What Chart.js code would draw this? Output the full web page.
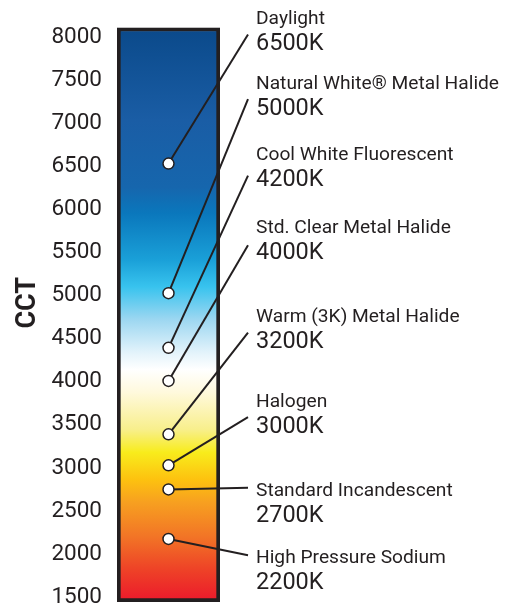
<!DOCTYPE html>
<html><head><meta charset="utf-8">
<script src="https://cdn.jsdelivr.net/npm/chart.js@4/dist/chart.umd.min.js"></script>
<style>html,body{margin:0;padding:0;background:#fff;overflow:hidden}canvas{display:block}</style>
</head><body><canvas id="c" width="532" height="609" style="width:532px;height:609px"></canvas>
<script>
// ---- data ----
const lampNames = ['Daylight','Natural White\u00AE Metal Halide','Cool White Fluorescent','Std. Clear Metal Halide','Warm (3K) Metal Halide','Halogen','Standard Incandescent','High Pressure Sodium'];
const lampLabels = ['6500K','5000K','4200K','4000K','3200K','3000K','2700K','2200K'];
const lampCCT = [6535, 5030, 4395, 4010, 3390, 3030, 2750, 2175];
const tickValues = [1500,2000,2500,3000,3500,4000,4500,5000,5500,6000,6500,7000,7500,8000];
const axisRange = [1442, 8116];
const axisTitle = 'CCT';
// ---- layout / style (in CCT units) ----
const calloutEndCCT = [8035, 7285, 6395, 5587, 4571, 3589, 2770, 1984];
const calloutTextCCT = [8208, 7458, 6638, 5783, 4756, 3763, 2735, 1950];
const spectrumStops = [
  [8081,'#0b4a8b'],[7038,'#1a5da5'],[6262,'#1666ad'],[5961,'#0a77bc'],[5416,'#1aa0d8'],
  [5103,'#38c3ee'],[4721,'#9dd7f1'],[4339,'#e3f3fb'],[4142,'#ffffff'],[3875,'#fff9dc'],
  [3447,'#f8ef8c'],[3180,'#f8ec1c'],[2867,'#fdc20f'],[2601,'#f7a020'],[2207,'#f27526'],
  [1825,'#ee4327'],[1477,'#ec1c2b']
];
const INK = '#231f20';
Chart.defaults.font.family = 'Roboto';
Chart.defaults.color = INK;

const callouts = {
  id: 'callouts',
  afterDatasetDraw(chart, args) {
    if (args.index !== 0) return;
    const ctx = chart.ctx, ys = chart.scales.y, ca = chart.chartArea;
    const pts = chart.getDatasetMeta(1).data;
    ctx.save();
    ctx.strokeStyle = INK; ctx.lineWidth = 2; ctx.lineCap = 'butt';
    pts.forEach((p, i) => {
      ctx.beginPath();
      ctx.moveTo(p.x, p.y);
      ctx.lineTo(ca.right + 28, ys.getPixelForValue(calloutEndCCT[i]));
      ctx.stroke();
    });
    ctx.restore();
  },
  afterDraw(chart) {
    const ctx = chart.ctx, ys = chart.scales.y, ca = chart.chartArea;
    ctx.save();
    ctx.fillStyle = INK; ctx.textAlign = 'left'; ctx.textBaseline = 'middle';
    lampNames.forEach((n, i) => {
      const y = ys.getPixelForValue(calloutTextCCT[i]);
      ctx.font = '19.2px Roboto';
      ctx.fillText(n, ca.right + 36, y);
      ctx.font = '23.5px Roboto';
      ctx.fillText(lampLabels[i], ca.right + 36, y + 25);
    });
    ctx.translate(28, (ca.top + ca.bottom) / 2 - 12);
    ctx.rotate(-Math.PI / 2);
    ctx.textAlign = 'center';
    ctx.font = 'bold 27px Roboto';
    ctx.fillText(axisTitle, 0, 0);
    ctx.restore();
  }
};

new Chart(document.getElementById('c'), {
  type: 'bar',
  data: {
    labels: ['spectrum'],
    datasets: [
      {
        type: 'bar',
        data: [[axisRange[0], axisRange[1]]],
        order: 2,
        barPercentage: 1, categoryPercentage: 1,
        borderColor: INK, borderWidth: 4, borderSkipped: false,
        backgroundColor(c) {
          const ch = c.chart;
          if (!ch.chartArea) return '#1467ad';
          const ys = ch.scales.y;
          const g = ch.ctx.createLinearGradient(0, ys.getPixelForValue(axisRange[1]), 0, ys.getPixelForValue(axisRange[0]));
          spectrumStops.forEach(([v, col]) => {
            const t = Math.min(1, Math.max(0, (axisRange[1] - v) / (axisRange[1] - axisRange[0])));
            g.addColorStop(t, col);
          });
          return g;
        }
      },
      {
        type: 'line',
        data: lampCCT.map(v => ({ x: 0, y: v })),
        order: 1,
        showLine: false,
        pointRadius: 5.5,
        pointBackgroundColor: '#ffffff',
        pointBorderColor: INK,
        pointBorderWidth: 1.5
      }
    ]
  },
  options: {
    responsive: false, animation: false, devicePixelRatio: 1,
    layout: { padding: { left: 0, right: 312, top: 27.5, bottom: 3.5 } },
    plugins: { legend: { display: false }, tooltip: { enabled: false } },
    scales: {
      x: { display: false },
      y: {
        min: axisRange[0], max: axisRange[1],
        afterFit(s) { s.width = 117; s.paddingTop = 0; s.paddingBottom = 0; },
        afterBuildTicks(s) { s.ticks = tickValues.map(v => ({ value: v })); },
        grid: { display: false, drawTicks: false },
        border: { display: false },
        ticks: { padding: 15, font: { size: 22.5 }, color: INK, callback: v => String(v) }
      }
    }
  },
  plugins: [callouts]
});
</script>
</body></html>
